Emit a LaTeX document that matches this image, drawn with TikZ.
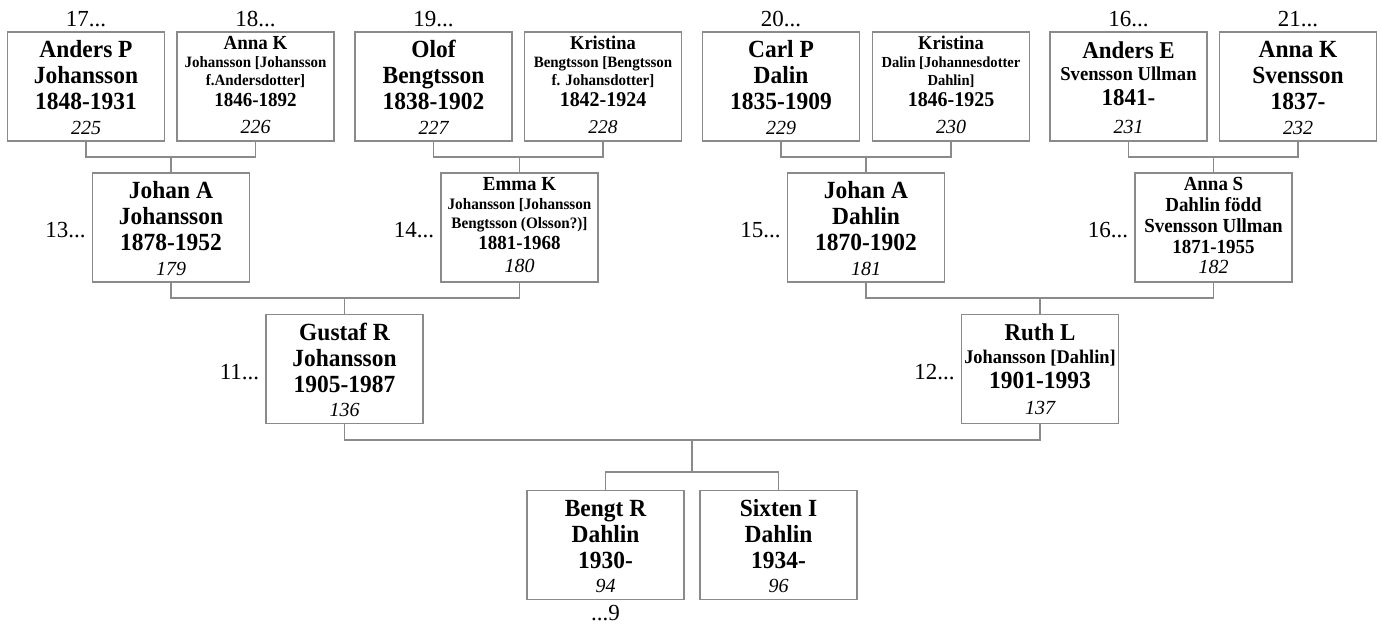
\documentclass[tikz,border=0pt]{standalone}
\usepackage{fontspec}
\setmainfont{Liberation Serif}[BoldFeatures={FakeStretch=0.95}]
\definecolor{boxgray}{HTML}{8A8A8A}
\newdimen\pdepthA
\newdimen\pheightA
\newcommand\StrutP[1]{\pheightA=#1pt\relax\pdepthA=0.28\pheightA\relax\advance\pheightA by -\pdepthA\relax\leavevmode\vrule width 0pt height \pheightA depth \pdepthA\relax}
\newcommand\PGap[1]{\leavevmode\vrule width 0pt height #1pt depth 0pt\relax}
\newcommand\PBl[3]{\fontsize{\fpeval{#1*1.05}}{0}\normalfont\bfseries\StrutP{#2}#3}
\newcommand\PIt[3]{\fontsize{#1}{0}\normalfont\itshape\StrutP{#2}#3}
\newcommand\PBig[1]{\PBl{23.5}{26}{#1}}
\newcommand\PLsk{\baselineskip=0pt\relax\lineskip=0pt\relax\lineskiplimit=0pt\relax}
\tikzset{
  person/.style={draw=boxgray, line width=1.3pt, fill=white, minimum width=157pt,
    minimum height=109pt, inner sep=0pt, align=center,
    font=\fontsize{20}{20}\selectfont, execute at begin node=\PLsk},
  conn/.style={draw=boxgray, line width=1.3pt},
  lab/.style={inner sep=0pt, font=\fontsize{23}{23}\selectfont}
}
\begin{document}
\begin{tikzpicture}[x=1pt,y=-1pt]
\useasboundingbox (0,0) rectangle (1382,624);
% top row
\node[person] (p225) at (86,86.5) {\PGap{7}\\\PBig{Anders P}\\\PBig{Johansson}\\\PBig{1848-1931}\\\PIt{20}{24}{225}};
\node[person] (p226) at (255.5,86.5) {\PGap{2}\\\PBl{19}{20}{Anna K}\\\PBl{15}{18}{Johansson [Johansson}\\\PBl{15}{18}{f.Andersdotter]}\\\PBl{19}{21}{1846-1892}\\\PGap{4}\\\PIt{20}{24}{226}};
\node[person] (p227) at (433.5,86.5) {\PGap{7}\\\PBig{Olof}\\\PBig{Bengtsson}\\\PBig{1838-1902}\\\PIt{20}{24}{227}};
\node[person] (p228) at (603,86.5) {\PGap{2}\\\PBl{18.5}{20}{Kristina}\\\PBl{15}{18}{Bengtsson [Bengtsson}\\\PBl{15}{18}{f. Johansdotter]}\\\PBl{20}{21}{1842-1924}\\\PGap{4}\\\PIt{19.5}{24}{228}};
\node[person] (p229) at (781,86.5) {\PGap{7}\\\PBig{Carl P}\\\PBig{Dalin}\\\PBig{1835-1909}\\\PIt{20}{24}{229}};
\node[person] (p230) at (951,86.5) {\PGap{2}\\\PBl{18.5}{20}{Kristina}\\\PBl{14.6}{18}{Dalin [Johannesdotter}\\\PBl{14.6}{18}{Dahlin]}\\\PBl{20}{21}{1846-1925}\\\PGap{4}\\\PIt{20}{24}{230}};
\node[person] (p231) at (1128.5,86.5) {\PGap{8}\\\PBl{23}{25}{Anders E}\\\PBl{18.7}{22}{Svensson Ullman}\\\PBl{23}{26}{1841-}\\\PIt{20}{28}{231}};
\node[person] (p232) at (1298,86.5) {\PGap{7}\\\PBig{Anna K}\\\PBig{Svensson}\\\PBig{1837-}\\\PIt{20}{24}{232}};
% middle row
\node[person] (p179) at (171,227.5) {\PGap{7}\\\PBig{Johan A}\\\PBig{Johansson}\\\PBig{1878-1952}\\\PIt{20}{24}{179}};
\node[person] (p180) at (519.5,227.5) {\PBl{19}{20}{Emma K}\\\PBl{15.2}{19}{Johansson [Johansson}\\\PBl{15.2}{19}{Bengtsson (Olsson?)]}\\\PBl{19}{21}{1881-1968}\\\PIt{20}{24}{180}};
\node[person] (p181) at (866,227.5) {\PGap{7}\\\PBig{Johan A}\\\PBig{Dahlin}\\\PBig{1870-1902}\\\PIt{20}{24}{181}};
\node[person] (p182) at (1213.5,227.5) {\PBl{19}{21}{Anna S}\\\PBl{19}{21}{Dahlin född}\\\PBl{19}{21}{Svensson Ullman}\\\PBl{19}{21}{1871-1955}\\\PIt{20}{20}{182}};
% third row
\node[person] (p136) at (344.5,369) {\PGap{7}\\\PBig{Gustaf R}\\\PBig{Johansson}\\\PBig{1905-1987}\\\PIt{20}{24}{136}};
\node[person] (p137) at (1040,369) {\PGap{7}\\\PBl{23}{25}{Ruth L}\\\PBl{18.4}{22}{Johansson [Dahlin]}\\\PBig{1901-1993}\\\PIt{20}{27}{137}};
% children
\node[person] (p94) at (605.5,545) {\PGap{7}\\\PBig{Bengt R}\\\PBig{Dahlin}\\\PBig{1930-}\\\PIt{20}{24}{94}};
\node[person] (p96) at (778.5,545) {\PGap{7}\\\PBig{Sixten I}\\\PBig{Dahlin}\\\PBig{1934-}\\\PIt{20}{24}{96}};
% labels
\node[lab, anchor=base] (l17) at ([yshift=5pt]p225.north) {17...};
\node[lab, anchor=base] (l18) at ([yshift=5pt]p226.north) {18...};
\node[lab, anchor=base] (l19) at ([yshift=5pt]p227.north) {19...};
\node[lab, anchor=base] (l20) at ([yshift=5pt]p229.north) {20...};
\node[lab, anchor=base] (l16a) at ([yshift=5pt]p231.north) {16...};
\node[lab, anchor=base] (l21) at ([yshift=5pt]p232.north) {21...};
\node[lab, anchor=base east] (l13) at ([xshift=-6pt,yshift=-10pt]p179.west) {13...};
\node[lab, anchor=base east] (l14) at ([xshift=-6pt,yshift=-10pt]p180.west) {14...};
\node[lab, anchor=base east] (l15) at ([xshift=-6pt,yshift=-10pt]p181.west) {15...};
\node[lab, anchor=base east] (l16b) at ([xshift=-6pt,yshift=-10pt]p182.west) {16...};
\node[lab, anchor=base east] (l11) at ([xshift=-6pt,yshift=-10pt]p136.west) {11...};
\node[lab, anchor=base east] (l12) at ([xshift=-6pt,yshift=-10pt]p137.west) {12...};
\node[lab, anchor=north] (l9) at ([yshift=-5pt]p94.south) {...9};
% connectors
\coordinate (f1) at (171,157);
\coordinate (f2) at (519.5,157);
\coordinate (f3) at (866,157);
\coordinate (f4) at (1213.5,157);
\coordinate (f5) at (344.5,298);
\coordinate (f6) at (1040,298);
\coordinate (f7) at (692,440);
\coordinate (f8) at (692,472);
\draw[conn] (p225.south) |- (f1) -| (p226.south);
\draw[conn] (f1) -- (p179.north);
\draw[conn] (p227.south) |- (f2) -| (p228.south);
\draw[conn] (f2) -- (p180.north);
\draw[conn] (p229.south) |- (f3) -| (p230.south);
\draw[conn] (f3) -- (p181.north);
\draw[conn] (p231.south) |- (f4) -| (p232.south);
\draw[conn] (f4) -- (p182.north);
\draw[conn] (p179.south) |- (f5) -| (p180.south);
\draw[conn] (f5) -- (p136.north);
\draw[conn] (p181.south) |- (f6) -| (p182.south);
\draw[conn] (f6) -- (p137.north);
\draw[conn] (p136.south) |- (f7) -| (p137.south);
\draw[conn] (f7) -- (f8);
\draw[conn] (p94.north) |- (f8) -| (p96.north);
\end{tikzpicture}
\end{document}
